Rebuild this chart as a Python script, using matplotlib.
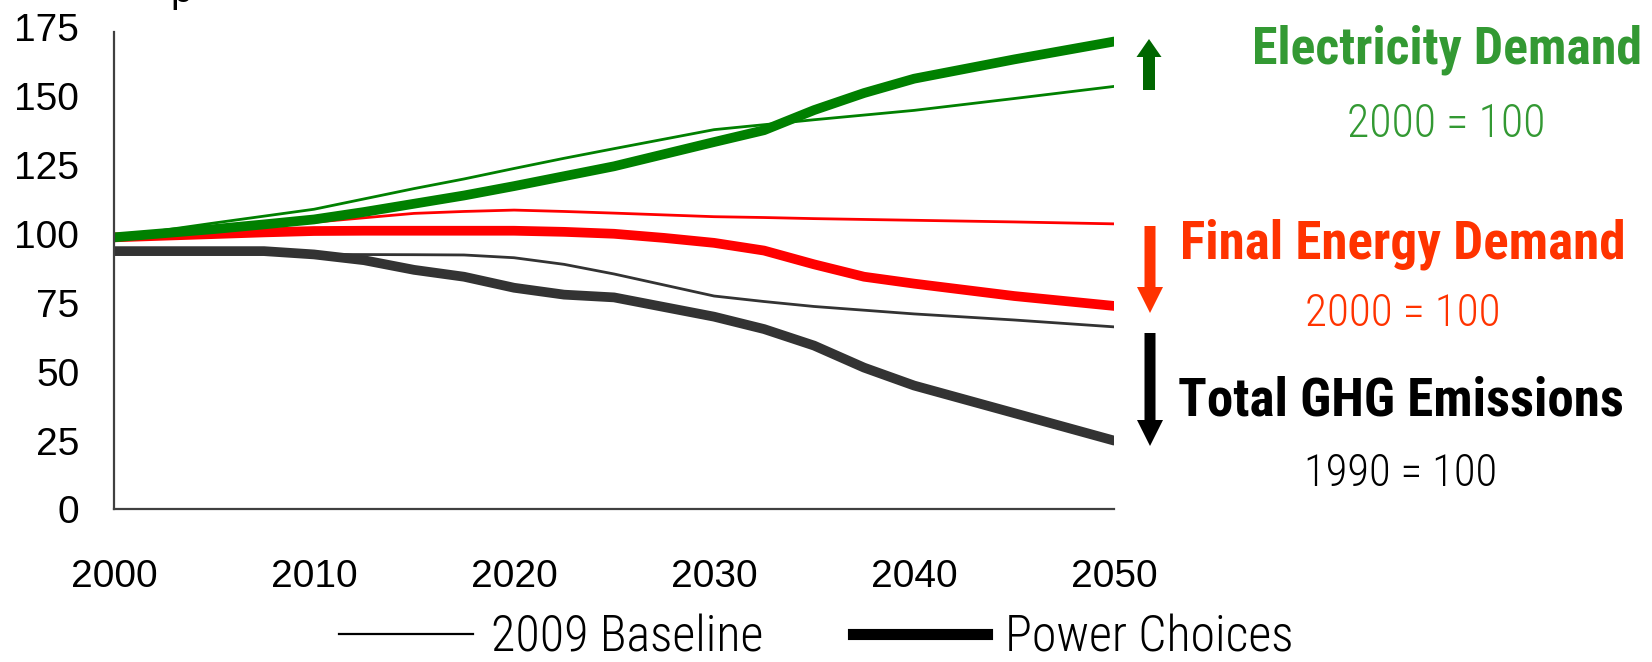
import numpy as np
import matplotlib
matplotlib.use("Agg")
import matplotlib.pyplot as plt
from matplotlib import font_manager
from matplotlib.patches import FancyArrow
from matplotlib.lines import Line2D

years_pc = [2000, 2005, 2007.5, 2010, 2012.5, 2015, 2017.5, 2020, 2022.5, 2025,
            2027.5, 2030, 2032.5, 2035, 2037.5, 2040, 2045, 2050]
years_bl = [2000, 2005, 2010, 2015, 2017.5, 2020, 2022.5, 2025, 2030,
            2032.5, 2035, 2040, 2045, 2050]

# Power Choices (thick)
elec_pc = [98.8, 101.8, 103.5, 105.3, 108.0, 111.0, 114.0, 117.4, 121.0, 124.6,
           129.0, 133.4, 137.7, 145.0, 151.2, 156.4, 163.4, 169.9]
fed_pc = [98.8, 100.0, 100.6, 101.1, 101.2, 101.2, 101.2, 101.2, 100.8, 100.1,
          98.6, 96.8, 94.0, 89.0, 84.5, 82.0, 77.5, 73.9]
ghg_pc = [93.8, 93.8, 93.8, 92.6, 90.5, 87.0, 84.5, 80.5, 78.0, 77.0,
          73.5, 70.0, 65.5, 59.5, 51.5, 45.0, 35.0, 25.0]

# 2009 Baseline (thin)
elec_bl = [98.8, 104.0, 109.0, 116.5, 120.0, 123.8, 127.5, 131.0, 137.9,
           139.7, 141.5, 144.9, 149.2, 153.6]
fed_bl = [98.8, 101.5, 104.3, 107.5, 108.2, 108.7, 108.2, 107.6, 106.3,
          106.0, 105.6, 105.0, 104.4, 103.7]
ghg_bl = [93.8, 93.5, 92.6, 92.5, 92.4, 91.4, 89.0, 85.5, 77.5,
          75.5, 73.7, 71.0, 68.8, 66.3]

year_ticks = [2000, 2010, 2020, 2030, 2040, 2050]
value_ticks = [0, 25, 50, 75, 100, 125, 150, 175]
legend_labels = ["2009 Baseline", "Power Choices"]

names = {f.name for f in font_manager.fontManager.ttflist}
base = "Liberation Sans" if "Liberation Sans" in names else "DejaVu Sans"

# look for a condensed face, the original uses Arial Narrow
narrow, stretch = base, "normal"
for cand in ["Liberation Sans Narrow", "Roboto Condensed", "Open Sans Condensed",
             "Noto Sans Condensed", "DejaVu Sans Condensed"]:
    if cand in names:
        narrow = cand
        break
else:
    cond = [f for f in font_manager.fontManager.ttflist
            if "ondensed" in f.fname or "Narrow" in f.fname]
    for pref in ["Liberation", "Roboto", "Noto Sans", "Open Sans", "DejaVu Sans"]:
        hit = [f for f in cond if f.name.startswith(pref)]
        if hit:
            narrow, stretch = hit[0].name, "condensed"
            break

plt.rcParams["font.family"] = [base, "DejaVu Sans"]

fig = plt.figure(figsize=(16.52, 6.62), dpi=100)
renderer = fig.canvas.get_renderer()


def fit_size(s, target_px, weight="normal", start=30):
    t = fig.text(0, 0, s, fontsize=start, family=narrow, fontstretch=stretch,
                 fontweight=weight)
    w = t.get_window_extent(renderer).width
    t.remove()
    return start * target_px / w


ax = fig.add_axes([0.069, 0.2304, 0.6054, 0.7281])

thin, thick = 2.0, 7.0
kw = dict(solid_capstyle="round", solid_joinstyle="round")
ax.plot(years_bl, ghg_bl, color="#333333", lw=thin, **kw)
ax.plot(years_pc, ghg_pc, color="#333333", lw=thick, **kw)
ax.plot(years_bl, fed_bl, color="#ff0000", lw=thin, **kw)
ax.plot(years_pc, fed_pc, color="#ff0000", lw=thick, **kw)
ax.plot(years_bl, elec_bl, color="#008000", lw=thin, **kw)
ax.plot(years_pc, elec_pc, color="#008000", lw=thick, **kw)

ax.set_xlim(2000, 2050)
ax.set_ylim(0, 175)
ax.set_xticks(year_ticks)
ax.set_yticks(value_ticks)
ax.tick_params(length=0, labelsize=28)
ax.tick_params(axis="y", pad=25)
ax.tick_params(axis="x", pad=36)
for s in ["top", "right"]:
    ax.spines[s].set_visible(False)
for s in ["left", "bottom"]:
    ax.spines[s].set_color("#404040")
    ax.spines[s].set_linewidth(1.6)
ax.spines["left"].set_bounds(0, 173.5)

# legend
leg_size = min(36, fit_size(legend_labels[0], 274, "light"))
handles = [Line2D([], [], color="black", lw=1.6),
           Line2D([], [], color="black", lw=8.0)]
fig.legend(handles, legend_labels, loc="center",
           bbox_to_anchor=(0.494, 0.036), ncol=2, frameon=False,
           prop={"family": narrow, "stretch": stretch, "size": leg_size,
                 "weight": "light"},
           handlelength=134 / (leg_size * 100 / 72), handletextpad=0.35,
           columnspacing=1.8)


# side labels, sized to the widths seen in the original
def label(x, y, s, color, width, weight, cap):
    size = min(cap, fit_size(s, width, weight))
    fig.text(x / 1652, 1 - y / 662, s, color=color, fontsize=size,
             fontweight=weight, family=narrow, fontstretch=stretch,
             ha="center", va="center")


label(1447, 50, "Electricity Demand", "#339933", 390, "bold", 39)
label(1446, 124, "2000 = 100", "#339933", 199, "light", 35)
label(1403, 244, "Final Energy Demand", "#ff3300", 446, "bold", 39)
label(1403, 314, "2000 = 100", "#ff3300", 197, "light", 35)
label(1401, 401, "Total GHG Emissions", "black", 445, "bold", 39)
label(1401, 474, "1990 = 100", "black", 194, "light", 35)


# arrows (pixel positions converted to inches)
def arrow(x, y0, y1, color, w, hw, hl):
    fig.add_artist(FancyArrow(x / 100, (662 - y0) / 100, 0, (y0 - y1) / 100,
                              width=w / 100, head_width=hw / 100,
                              head_length=hl / 100, length_includes_head=True,
                              color=color, lw=0,
                              transform=fig.dpi_scale_trans))


arrow(1149, 90, 39, "#006600", 12, 25, 18)
arrow(1150, 226, 313, "#ff3300", 11, 26, 26)
arrow(1150, 333, 446, "black", 11, 26, 26)

# clipped descender of a title above the chart
fig.text(170 / 1652, 1 - 2 / 662, "p", fontsize=28, va="baseline", ha="left")

fig.savefig("out.png", dpi=100)
